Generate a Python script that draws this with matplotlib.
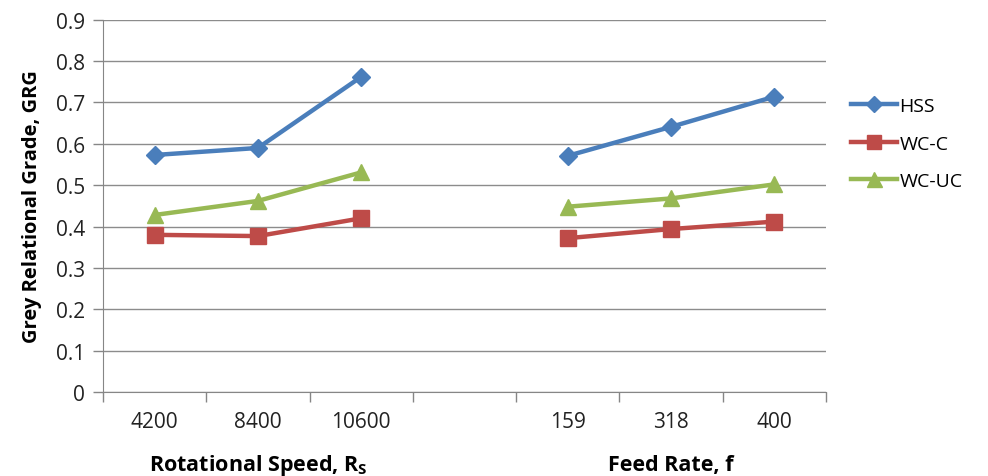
import numpy as np
import matplotlib
matplotlib.use('Agg')
import matplotlib.pyplot as plt

plt.rcParams['font.family'] = ['Open Sans', 'DejaVu Sans']

# categories (blank slot separates the two factor groups)
categories = ['4200', '8400', '10600', '', '159', '318', '400']
hss = [0.573, 0.590, 0.762, np.nan, 0.571, 0.641, 0.714]
wc_c = [0.380, 0.377, 0.420, np.nan, 0.372, 0.394, 0.412]
wc_uc = [0.428, 0.462, 0.531, np.nan, 0.448, 0.468, 0.502]
group_titles = ['Rotational Speed, R$_\\mathregular{S}$', 'Feed Rate, f']
group_centres = [1, 5]

fig = plt.figure(figsize=(9.88, 4.77), dpi=100)
ax = fig.add_axes([0.1043, 0.176, 0.7317, 0.7806])

x = np.arange(len(categories))
ax.plot(x, hss, color='#4A7EBB', lw=3.2, marker='D', markersize=9, label='HSS', zorder=3)
ax.plot(x, wc_c, color='#BE4B48', lw=3.2, marker='s', markersize=11, label='WC-C', zorder=3)
ax.plot(x, wc_uc, color='#98B954', lw=3.2, marker='^', markersize=12, label='WC-UC', zorder=3)

ax.set_ylim(0, 0.9)
ax.set_yticks(np.arange(0, 0.91, 0.1))
ax.set_yticklabels(['0'] + ['%.1f' % v for v in np.arange(0.1, 0.91, 0.1)])
ax.set_xlim(-0.5, len(categories) - 0.5)

# tick marks at category boundaries, labels at centres
ax.set_xticks(np.arange(-0.5, len(categories), 1.0))
ax.set_xticklabels([])
ax.set_xticks(x, minor=True)
ax.set_xticklabels(categories, minor=True)
ax.tick_params(axis='x', which='major', length=7, color='#868686', width=1)
ax.tick_params(axis='x', which='minor', length=0, pad=14, labelsize=15, colors='#222222')
ax.tick_params(axis='y', length=7, color='#868686', width=1, labelsize=15, colors='#222222', pad=6)

ax.grid(axis='y', color='#8C8C8C', lw=1)
ax.set_axisbelow(True)
for s in ['top', 'right']:
    ax.spines[s].set_visible(False)
for s in ['left', 'bottom']:
    ax.spines[s].set_color('#868686')

ax.set_ylabel('Grey Relational Grade, GRG', fontsize=14.5, fontweight='bold', labelpad=10)

trans = ax.get_xaxis_transform()
for title, c in zip(group_titles, group_centres):
    ax.text(c, -0.195, title, transform=trans, ha='center', va='center',
            fontsize=15.5, fontweight='bold')

ax.legend(loc='center left', bbox_to_anchor=(1.01, 0.667), frameon=False,
          fontsize=14, handlelength=2.4, handletextpad=0.1, labelspacing=1.0,
          markerscale=0.9)

fig.savefig('out.png', dpi=100)
